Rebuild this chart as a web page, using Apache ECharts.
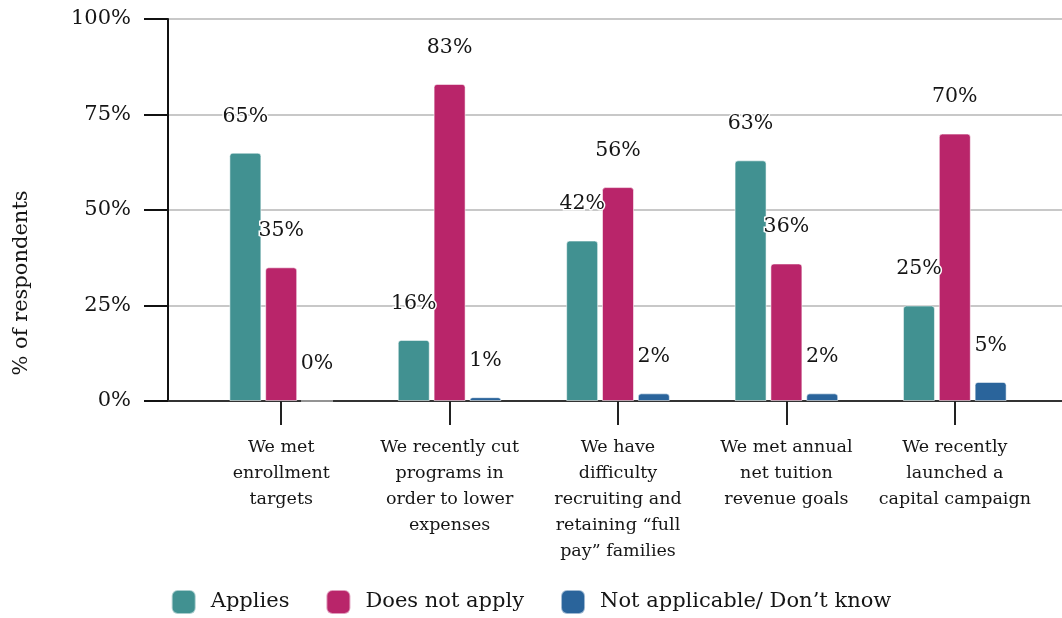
<!DOCTYPE html>
<html>
<head>
<meta charset="utf-8">
<script src="https://cdn.jsdelivr.net/npm/echarts@6/dist/echarts.min.js"></script>
<style>
  html, body { margin: 0; padding: 0; background: #fff; }
  #chart { width: 1062px; height: 618px; }
</style>
</head>
<body>
<div id="chart"></div>
<script>
// Survey statements shown along the x axis
const categories = [
  'We met\nenrollment\ntargets',
  'We recently cut\nprograms in\norder to lower\nexpenses',
  'We have\ndifficulty\nrecruiting and\nretaining \u201cfull\npay\u201d families',
  'We met annual\nnet tuition\nrevenue goals',
  'We recently\nlaunched a\ncapital campaign'
];

// Share of respondents (%) per answer
const applies = [65, 16, 42, 63, 25];
const doesNotApply = [35, 83, 56, 36, 70];
const notApplicable = [0, 1, 2, 2, 5];

const seriesNames = ['Applies', 'Does not apply', 'Not applicable/ Don\u2019t know'];
const yTicks = [0, 25, 50, 75, 100];

const FONT = 'DejaVu Serif';
const TEXT = '#151515';
const colors = ['#419191', '#B9256A', '#2A649B'];

const chart = echarts.init(document.getElementById('chart'));

function barSeries(name, data, color) {
  return {
    name: name,
    type: 'bar',
    xAxisIndex: 1,
    yAxisIndex: 1,
    data: data,
    barWidth: 32,
    barGap: '12%',
    itemStyle: {
      color: color,
      borderRadius: [3, 3, 0, 0],
      borderColor: 'rgba(255,255,255,0.55)',
      borderWidth: 1
    },
    label: {
      show: true,
      position: 'top',
      distance: 26,
      formatter: p => p.value + '%',
      fontFamily: FONT,
      fontSize: 20.5,
      color: TEXT,
      textBorderColor: '#fff',
      textBorderWidth: 3
    }
  };
}

chart.setOption({
  animation: false,
  textStyle: { fontFamily: FONT },
  color: colors,
  grid: [
    { left: 168, right: 0, top: 19, bottom: 217 },
    { left: 197, right: 23, top: 19, bottom: 217 }
  ],
  xAxis: [
    {
      gridIndex: 0,
      type: 'value',
      min: 0,
      max: 1,
      axisLine: { show: true, lineStyle: { color: '#333', width: 2 } },
      axisTick: { show: false },
      axisLabel: { show: false },
      splitLine: { show: false }
    },
    {
      gridIndex: 1,
      type: 'category',
      data: categories,
      axisLine: { show: false },
      axisTick: {
        show: true,
        alignWithLabel: true,
        length: 24,
        lineStyle: { color: '#222', width: 2 }
      },
      axisLabel: {
        margin: 33,
        fontFamily: FONT,
        fontSize: 17.5,
        lineHeight: 26,
        color: TEXT,
        interval: 0
      }
    }
  ],
  yAxis: [
    {
      gridIndex: 0,
      type: 'value',
      min: 0,
      max: 100,
      interval: 25,
      axisLine: { show: true, lineStyle: { color: '#111', width: 2 } },
      axisTick: {
        show: true,
        inside: false,
        length: 24,
        lineStyle: { color: '#111', width: 2 }
      },
      axisLabel: {
        margin: 37,
        fontFamily: FONT,
        fontSize: 21,
        color: TEXT,
        formatter: v => (yTicks.indexOf(v) >= 0 ? v + '%' : '')
      },
      splitLine: { show: true, lineStyle: { color: '#c8c8c8', width: 2 } }
    },
    {
      gridIndex: 1,
      type: 'value',
      min: 0,
      max: 100,
      interval: 25,
      show: false,
      splitLine: { show: false }
    }
  ],
  legend: {
    data: seriesNames,
    top: 584,
    left: 'center',
    icon: 'roundRect',
    itemWidth: 24,
    itemHeight: 24,
    itemGap: 36,
    textStyle: {
      fontFamily: FONT,
      fontSize: 21,
      color: TEXT,
      padding: [0, 0, 0, 10]
    }
  },
  graphic: [
    {
      type: 'text',
      x: 22,
      y: 283,
      rotation: Math.PI / 2,
      style: {
        text: '% of respondents',
        fontFamily: FONT,
        fontSize: 21,
        fill: TEXT,
        textAlign: 'center',
        textVerticalAlign: 'middle'
      }
    }
  ],
  series: [
    barSeries(seriesNames[0], applies, colors[0]),
    barSeries(seriesNames[1], doesNotApply, colors[1]),
    barSeries(seriesNames[2], notApplicable, colors[2])
  ]
});
</script>
</body>
</html>
